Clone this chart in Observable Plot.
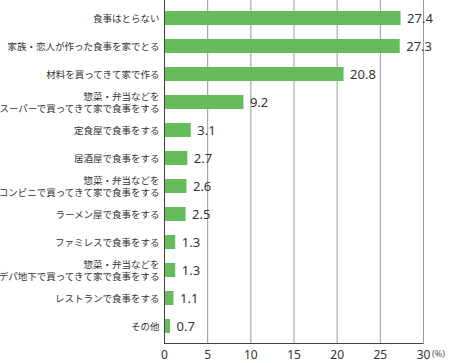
<!DOCTYPE html>
<html><head><meta charset="utf-8">
<script src="https://cdn.jsdelivr.net/npm/d3@7"></script>
<script src="https://cdn.jsdelivr.net/npm/@observablehq/plot@0.6"></script>
<style>body{margin:0;background:#fff;}</style>
</head><body><div id="chart"></div>
<script>
const categories = [
  "食事はとらない",
  "家族・恋人が作った食事を家でとる",
  "材料を買ってきて家で作る",
  "惣菜・弁当などを\nスーパーで買ってきて家で食事をする",
  "定食屋で食事をする",
  "居酒屋で食事をする",
  "惣菜・弁当などを\nコンビニで買ってきて家で食事をする",
  "ラーメン屋で食事をする",
  "ファミレスで食事をする",
  "惣菜・弁当などを\nデパ地下で買ってきて家で食事をする",
  "レストランで食事をする",
  "その他"
];
const values = [27.4, 27.3, 20.8, 9.2, 3.1, 2.7, 2.6, 2.5, 1.3, 1.3, 1.1, 0.7];
const xTicks = [0, 5, 10, 15, 20, 25, 30];
const data = categories.map((c, i) => ({category: c, value: values[i]}));

const chart = Plot.plot({
  width: 450,
  height: 363,
  marginTop: 0,
  marginBottom: 19,
  marginLeft: 164,
  marginRight: 27,
  style: {fontFamily: "'Noto Sans', 'Noto Sans CJK JP', sans-serif", color: "#333", background: "#fff"},
  x: {domain: [0, 30]},
  y: {domain: categories, paddingInner: 0.51, paddingOuter: 0.244, axis: null},
  marks: [
    Plot.gridX(xTicks.filter(d => d > 0), {stroke: "#999", strokeOpacity: 1, strokeWidth: 1}),
    Plot.barX(data, {x: "value", y: "category", fill: "#66bb5c"}),
    Plot.ruleX([0], {stroke: "#444", strokeWidth: 1}),
    Plot.text(categories, {y: d => d, text: d => d, frameAnchor: "left", textAnchor: "end", dx: -5, fontSize: 9.5, lineHeight: 1.25, fill: "#333"}),
    Plot.axisX({ticks: xTicks, tickSize: 0, tickPadding: 6, fontSize: 12, label: null, fill: "#333", tickFormat: d => d}),
    Plot.text(data, {x: "value", y: "category", text: d => d.value.toFixed(1), textAnchor: "start", dx: 6, fontSize: 13, fill: "#333"}),
    Plot.text(["(%)"], {x: 30, frameAnchor: "bottom", dx: 15, dy: 12, fontSize: 9, fill: "#555", text: d => d})
  ]
});
document.getElementById("chart").appendChild(chart);
// bottom axis line drawn from the library's x scale
const xs = chart.scale("x");
const yBottom = 363 - 19;
d3.select(chart).append("line")
  .attr("x1", xs.apply(0)).attr("x2", xs.apply(30))
  .attr("y1", yBottom - 0.5).attr("y2", yBottom - 0.5)
  .attr("stroke", "#444").attr("stroke-width", 1);
</script>
</body></html>
